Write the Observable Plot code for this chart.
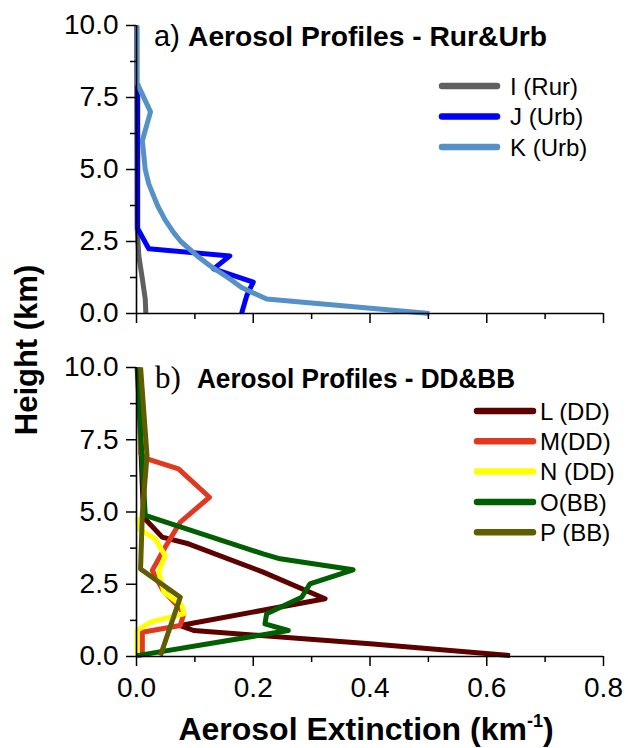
<!DOCTYPE html>
<html>
<head>
<meta charset="utf-8">
<script src="https://cdn.jsdelivr.net/npm/d3@7"></script>
<script src="https://cdn.jsdelivr.net/npm/@observablehq/plot@0.6"></script>
<style>
  html, body { margin: 0; padding: 0; background: #ffffff; }
  #wrap { position: relative; width: 628px; height: 748px; overflow: hidden; background: #ffffff; }
  #wrap > svg { position: absolute; left: 0; top: 0; }
</style>
</head>
<body>
<div id="wrap"></div>
<script>
// ---------- tick values ----------
const heightTicks = [0, 2.5, 5, 7.5, 10];
const heightMinor = [1.25, 3.75, 6.25, 8.75];
const extTicks = [0, 0.2, 0.4, 0.6, 0.8];
const extMinor = [0.1, 0.3, 0.5, 0.7];

// ---------- panel a) Rur & Urb ----------
const namesA = ["I (Rur)", "J (Urb)", "K (Urb)"];
const I_h = [10, 3.0, 2.0, 1.2, 0.5, 0];
const I_v = [0, 0.001, 0.004, 0.010, 0.015, 0.016];
const J_h = [8.0, 2.95, 2.25, 2.0, 1.55, 1.09, 0.63, 0];
const J_v = [0.002, 0.002, 0.021, 0.160, 0.132, 0.200, 0.189, 0.180];
const K_h = [10, 8.0, 7.0, 6.0, 5.0, 4.5, 3.75, 3.25, 2.8, 2.5, 2.0, 1.6, 1.2, 0.9, 0.5, 0];
const K_v = [0.001, 0.001, 0.024, 0.010, 0.015, 0.021, 0.036, 0.049, 0.064, 0.076, 0.104, 0.130, 0.160, 0.180, 0.223, 0.502];

// ---------- panel b) DD & BB ----------
const namesB = ["L (DD)", "M(DD)", "N (DD)", "O(BB)", "P (BB)"];
const L_h = [10, 7.5, 4.82, 4.13, 3.9, 2.92, 2.0, 1.07, 0.9, 0.44, 0.03];
const L_v = [0.004, 0.007, 0.012, 0.044, 0.089, 0.217, 0.323, 0.075, 0.098, 0.400, 0.640];
const M_h = [10, 7.01, 6.84, 6.49, 5.51, 4.65, 3.78, 2.98, 2.3, 1.65, 1.48, 1.07, 0.84, 0];
const M_v = [0.004, 0.007, 0.018, 0.072, 0.125, 0.075, 0.049, 0.027, 0.045, 0.075, 0.081, 0.075, 0.010, 0.010];
const N_h = [4.82, 4.42, 4.07, 3.49, 2.92, 2.22, 1.76, 1.48, 1.19, 0.9, 0];
const N_v = [0.001, 0.004, 0.032, 0.049, 0.038, 0.047, 0.078, 0.081, 0.024, 0.001, 0.001];
const O_h = [10, 4.88, 3.55, 3.38, 3.0, 2.51, 2.05, 1.48, 1.13, 0.9, 0.03];
const O_v = [0.001, 0.015, 0.217, 0.246, 0.371, 0.297, 0.283, 0.223, 0.220, 0.260, 0.001];
const P_h = [10, 6.95, 4.94, 3.03, 2.05, 0.03];
const P_v = [0.007, 0.018, 0.010, 0.007, 0.075, 0.041];

// ---------- colours ----------
const colorsA = ["#606060", "#0000ff", "#5590c6"];
const colorsB = ["#5c0000", "#e0391f", "#ffff00", "#005f00", "#5e5e00"];

const FONT = "'Liberation Sans', Arial, Helvetica, sans-serif";

function rows(names, hs, vs) {
  return names.flatMap((n, k) => hs[k].map((h, i) => ({key: n, h, v: vs[k][i]})));
}
const dataA = rows(namesA, [I_h, J_h, K_h], [I_v, J_v, K_v]);
const dataB = rows(namesB, [L_h, M_h, N_h, O_h, P_h], [L_v, M_v, N_v, O_v, P_v]);

const W = 628, H = 748;
function panel(data, names, colors, top, bottom, showX) {
  return Plot.plot({
    width: W, height: H,
    marginLeft: 136, marginRight: 25, marginTop: top, marginBottom: H - bottom,
    style: {background: "transparent", fontFamily: FONT, color: "#000", overflow: "visible"},
    x: {domain: [0, 0.8]},
    y: {domain: [0, 10]},
    color: {domain: names, range: colors},
    marks: [
      Plot.line(data, {x: "v", y: "h", z: "key", stroke: "key", strokeWidth: 5,
                       strokeLinejoin: "round", strokeLinecap: "butt"}),
      Plot.ruleX([0], {stroke: "#000", strokeWidth: 1.6}),
      Plot.ruleY([0], {stroke: "#000", strokeWidth: 1.6}),
      Plot.axisY(heightTicks, {tickSize: 10, tickPadding: 8, tickFormat: d3.format(".1f"),
                               fontSize: 28, label: null, strokeWidth: 1.5}),
      Plot.axisY(heightMinor, {tickSize: 6, tickFormat: () => "", label: null, strokeWidth: 1.5}),
      Plot.axisX(extTicks, {tickSize: 10, tickPadding: 11,
                            tickFormat: showX ? d3.format(".1f") : () => "",
                            fontSize: 28, label: null, strokeWidth: 1.5}),
      Plot.axisX(extMinor, {tickSize: 6, tickFormat: () => "", label: null, strokeWidth: 1.5})
    ]
  });
}

const wrap = document.getElementById("wrap");
wrap.appendChild(panel(dataA, namesA, colorsA, 25, 313, false));
wrap.appendChild(panel(dataB, namesB, colorsB, 367, 656, true));

// ---------- titles, axis titles and legends ----------
const ov = d3.select(wrap).append("svg")
  .attr("width", W).attr("height", H)
  .style("font-family", FONT);

ov.append("text").attr("x", 154).attr("y", 46)
  .attr("font-size", 29).text("a)");
ov.append("text").attr("x", 188).attr("y", 46)
  .attr("font-size", 28).attr("font-weight", "bold")
  .attr("textLength", 359).attr("lengthAdjust", "spacingAndGlyphs")
  .text("Aerosol Profiles - Rur&Urb");

ov.append("text").attr("x", 155).attr("y", 388)
  .attr("font-size", 31).attr("font-family", "'Liberation Serif', 'DejaVu Serif', serif")
  .text("b)");
ov.append("text").attr("x", 197).attr("y", 388)
  .attr("font-size", 28).attr("font-weight", "bold")
  .attr("textLength", 318).attr("lengthAdjust", "spacingAndGlyphs")
  .text("Aerosol Profiles - DD&BB");

ov.append("text")
  .attr("transform", "translate(37,350) rotate(-90)")
  .attr("text-anchor", "middle")
  .attr("font-size", 31).attr("font-weight", "bold")
  .text("Height (km)");

const xt = ov.append("text").attr("x", 366).attr("y", 740)
  .attr("text-anchor", "middle").attr("font-size", 32).attr("font-weight", "bold");
xt.append("tspan").text("Aerosol Extinction (km");
xt.append("tspan").attr("dy", -13).attr("font-size", 18).text("-1");
xt.append("tspan").attr("dy", 13).text(")");

function legend(names, colors, x0, x1, tx, y0, dy) {
  names.forEach((n, i) => {
    const y = y0 + i * dy;
    ov.append("line").attr("x1", x0).attr("x2", x1).attr("y1", y).attr("y2", y)
      .attr("stroke", colors[i]).attr("stroke-width", 6.5).attr("stroke-linecap", "round");
    ov.append("text").attr("x", tx).attr("y", y).attr("dy", "0.36em")
      .attr("font-size", 24).text(n);
  });
}
legend(namesA, colorsA, 442, 497, 510, 86, 30.5);
legend(namesB, colorsB, 477, 533, 540, 411, 30.3);
</script>
</body>
</html>
